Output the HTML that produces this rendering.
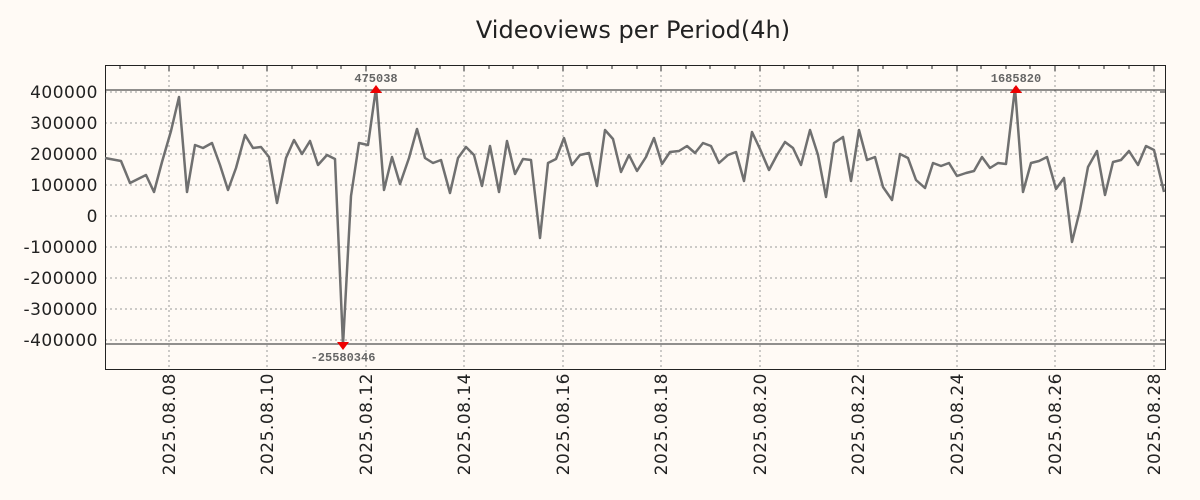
<!DOCTYPE html>
<html><head><meta charset="utf-8"><style>
body{margin:0;background:#fffaf5;}
svg{display:block;font-family:"DejaVu Sans","Liberation Sans",sans-serif;}
</style></head><body>
<svg width="1200" height="500" xmlns="http://www.w3.org/2000/svg">
<rect width="1200" height="500" fill="#fffaf5"/>
<text x="633" y="38" font-size="24" text-anchor="middle" fill="#222">Videoviews per Period(4h)</text>
<g stroke="#999" stroke-dasharray="2,3" stroke-width="1">
<line x1="105" x2="1165" y1="92" y2="92"/><line x1="105" x2="1165" y1="123" y2="123"/><line x1="105" x2="1165" y1="154" y2="154"/><line x1="105" x2="1165" y1="185" y2="185"/><line x1="105" x2="1165" y1="216" y2="216"/><line x1="105" x2="1165" y1="247" y2="247"/><line x1="105" x2="1165" y1="278" y2="278"/><line x1="105" x2="1165" y1="309" y2="309"/><line x1="105" x2="1165" y1="340" y2="340"/>
<line y1="65" y2="369" x1="169" x2="169"/><line y1="65" y2="369" x1="267" x2="267"/><line y1="65" y2="369" x1="366" x2="366"/><line y1="65" y2="369" x1="464" x2="464"/><line y1="65" y2="369" x1="563" x2="563"/><line y1="65" y2="369" x1="661" x2="661"/><line y1="65" y2="369" x1="760" x2="760"/><line y1="65" y2="369" x1="858" x2="858"/><line y1="65" y2="369" x1="957" x2="957"/><line y1="65" y2="369" x1="1055" x2="1055"/><line y1="65" y2="369" x1="1154" x2="1154"/>
</g>
<g stroke="#222" stroke-width="1">
<path d="M120,65v4M145,65v4M169,65v6M194,65v4M218,65v4M243,65v4M267,65v6M292,65v4M317,65v4M341,65v4M366,65v6M390,65v4M415,65v4M440,65v4M464,65v6M489,65v4M513,65v4M538,65v4M563,65v6M587,65v4M612,65v4M637,65v4M661,65v6M686,65v4M710,65v4M735,65v4M760,65v6M784,65v4M809,65v4M833,65v4M858,65v6M883,65v4M907,65v4M932,65v4M957,65v6M981,65v4M1006,65v4M1030,65v4M1055,65v6M1079,65v4M1104,65v4M1129,65v4M1154,65v6"/>
<path d="M1165,92h-5M1165,123h-5M1165,154h-5M1165,185h-5M1165,216h-5M1165,247h-5M1165,278h-5M1165,309h-5M1165,340h-5"/>
</g>
<line x1="105" x2="1165" y1="90" y2="90" stroke="#222"/>
<line x1="105" x2="1165" y1="344" y2="344" stroke="#222"/>
<rect x="105.5" y="65.5" width="1060" height="304" fill="none" stroke="#222"/>
<g font-size="17" fill="#222" text-anchor="end" letter-spacing="0.5">
<text x="98" y="98">400000</text><text x="98" y="129">300000</text><text x="98" y="160">200000</text><text x="98" y="191">100000</text><text x="98" y="222">0</text><text x="98" y="253">-100000</text><text x="98" y="284">-200000</text><text x="98" y="315">-300000</text><text x="98" y="346">-400000</text>
</g>
<g font-size="17" fill="#222" text-anchor="end" letter-spacing="0.5">
<text transform="translate(175,373) rotate(-90)">2025.08.08</text>
<text transform="translate(273,373) rotate(-90)">2025.08.10</text>
<text transform="translate(372,373) rotate(-90)">2025.08.12</text>
<text transform="translate(470,373) rotate(-90)">2025.08.14</text>
<text transform="translate(569,373) rotate(-90)">2025.08.16</text>
<text transform="translate(667,373) rotate(-90)">2025.08.18</text>
<text transform="translate(766,373) rotate(-90)">2025.08.20</text>
<text transform="translate(864,373) rotate(-90)">2025.08.22</text>
<text transform="translate(963,373) rotate(-90)">2025.08.24</text>
<text transform="translate(1061,373) rotate(-90)">2025.08.26</text>
<text transform="translate(1160,373) rotate(-90)">2025.08.28</text>
</g>
<polyline fill="none" stroke="#707070" stroke-width="2.5" stroke-linejoin="round" points="105,158 121,161 130,183 146,175 154,192 162,162 171,131 179,97 187,192 195,145 203,148 212,143 220,165 228,190 236,168 245,135 253,148 261,147 269,157 277,203 286,158 294,140 302,154 310,141 318,165 327,155 335,159 343,345 351,196 359,143 368,145 376,88 384,190 392,157 400,184 409,158 417,129 425,158 433,163 441,160 450,193 458,158 466,147 474,155 482,186 490,146 499,192 507,141 515,174 523,159 531,160 540,238 548,163 556,159 564,138 572,165 580,155 589,153 597,186 605,130 613,139 621,172 629,155 637,171 646,157 654,138 662,164 670,152 679,151 687,146 695,153 703,143 711,146 719,163 728,155 736,152 744,181 752,132 760,149 769,170 777,155 785,142 793,148 801,165 810,130 818,155 826,197 834,143 843,137 851,181 859,130 867,160 875,157 883,187 892,200 900,154 908,158 916,180 925,188 933,163 941,166 949,163 957,176 966,173 974,171 982,157 990,168 998,163 1006,164 1015,88 1023,192 1031,163 1039,161 1047,157 1056,189 1064,178 1072,242 1080,210 1088,167 1097,151 1105,195 1113,162 1121,160 1129,151 1138,165 1146,146 1154,150 1164,192"/>
<g fill="#e00">
<polygon points="376,85 370,93 382,93"/>
<polygon points="1016,85 1010,93 1022,93"/>
<polygon points="343,350 337,342 349,342"/>
</g>
<g font-family="'Liberation Mono','DejaVu Sans Mono',monospace" font-size="12" font-weight="bold" fill="#666" text-anchor="middle">
<text x="376" y="82">475038</text>
<text x="1016" y="82">1685820</text>
<text x="343" y="361">-25580346</text>
</g>
</svg>
</body></html>
